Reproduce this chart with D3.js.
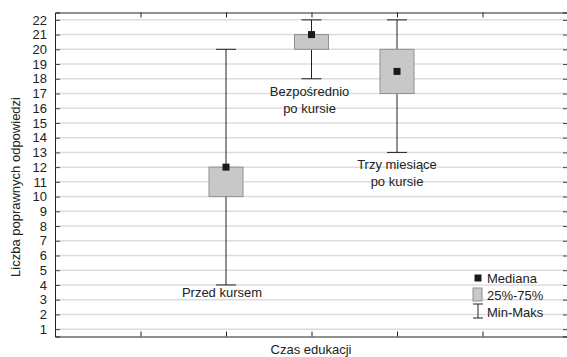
<!DOCTYPE html>
<html>
<head>
<meta charset="utf-8">
<script src="https://cdn.jsdelivr.net/npm/d3@7"></script>
<style>
  html, body { margin: 0; padding: 0; background: #fff; }
  svg { display: block; font-family: "Liberation Sans", Arial, sans-serif; }
  .tick-label { font-size: 13px; fill: #222; }
  .grid line { stroke: #dcdcdc; stroke-width: 1.5; }
</style>
</head>
<body>
<div id="chart"></div>
<script>
// dane
const categories = ["Przed kursem", "Bezpośrednio po kursie", "Trzy miesiące po kursie"];
const catPos = [2, 3, 4];          // pozycja na osi X (0..6)
const minVals = [4, 18, 13];
const q1Vals = [10, 20, 17];
const medVals = [12, 21, 18.5];
const q3Vals = [12, 21, 20];
const maxVals = [20, 22, 22];
const labelLines = [["Przed kursem"], ["Bezpośrednio", "po kursie"], ["Trzy miesiące", "po kursie"]];
const labelAt = [3.2, 16.8, 11.85]; // wartość Y linii bazowej etykiety
const yTicks = d3.range(1, 23);
const xTicks = [1, 2, 3, 4, 5];
const legendItems = ["Mediana", "25%-75%", "Min-Maks"];

const W = 567, H = 357;
const margin = { top: 12.5, right: 0, bottom: 20.5, left: 55 };
const width = 568 - margin.left;
const height = H - margin.top - margin.bottom;

const svg = d3.select("#chart").append("svg")
  .attr("width", W).attr("height", H);
const g = svg.append("g").attr("transform", `translate(${margin.left},${margin.top})`);

const x = d3.scaleLinear().domain([0, 6]).range([0, width]);
const y = d3.scaleLinear().domain([0.5, 22.5]).range([height, 0]);

// siatka
g.append("g").attr("class", "grid")
  .selectAll("line").data(yTicks).join("line")
  .attr("x1", 0).attr("x2", width)
  .attr("y1", d => y(d)).attr("y2", d => y(d));

// osie (tiki do środka)
const yAxis = g.append("g").call(d3.axisLeft(y).tickValues(yTicks).tickSize(-5).tickPadding(8));
yAxis.select(".domain").attr("stroke", "#222");
yAxis.selectAll(".tick line").attr("stroke", "#444");
yAxis.selectAll(".tick text").attr("class", "tick-label").attr("font-size", null).attr("font-family", null);

const yAxisR = g.append("g").attr("transform", `translate(${width},0)`)
  .call(d3.axisRight(y).tickValues(yTicks).tickSize(-5).tickFormat(""));
yAxisR.select(".domain").attr("stroke", "#222");
yAxisR.selectAll(".tick line").attr("stroke", "#444");

const xAxis = g.append("g").attr("transform", `translate(0,${height})`)
  .call(d3.axisBottom(x).tickValues(xTicks).tickSize(-5).tickFormat(""));
xAxis.select(".domain").attr("stroke", "#222");
xAxis.selectAll(".tick line").attr("stroke", "#222");

const xAxisT = g.append("g")
  .call(d3.axisTop(x).tickValues(xTicks).tickSize(-5).tickFormat(""));
xAxisT.select(".domain").attr("stroke", "#222");
xAxisT.selectAll(".tick line").attr("stroke", "#222");

// wykresy pudełkowe
const boxW = 34, capW = 20, medS = 7;
categories.forEach((c, i) => {
  const cx = x(catPos[i]);
  // wąsy
  g.append("line").attr("x1", cx).attr("x2", cx)
    .attr("y1", y(maxVals[i])).attr("y2", y(minVals[i]))
    .attr("stroke", "#222").attr("stroke-width", 1);
  [minVals[i], maxVals[i]].forEach(v => {
    g.append("line").attr("x1", cx - capW / 2).attr("x2", cx + capW / 2)
      .attr("y1", y(v)).attr("y2", y(v))
      .attr("stroke", "#222").attr("stroke-width", 1);
  });
  // pudełko
  g.append("rect")
    .attr("x", cx - boxW / 2).attr("y", y(q3Vals[i]))
    .attr("width", boxW).attr("height", y(q1Vals[i]) - y(q3Vals[i]))
    .attr("fill", "#c8c8c8").attr("stroke", "#909090").attr("stroke-width", 1);
  // mediana
  g.append("rect")
    .attr("x", cx - medS / 2).attr("y", y(medVals[i]) - medS / 2)
    .attr("width", medS).attr("height", medS)
    .attr("fill", "#1a1a1a");
  // etykieta
  const lx = cx - (i === 0 ? 4 : i === 1 ? 2 : 0);
  const t = g.append("text").attr("class", "tick-label")
    .attr("text-anchor", "middle")
    .attr("x", lx)
    .attr("y", y(labelAt[i]));
  labelLines[i].forEach((line, j) => {
    t.append("tspan").attr("x", lx).attr("dy", j === 0 ? 0 : 16.5).text(line);
  });
});

// legenda
const lg = svg.append("g").attr("transform", "translate(478,278)");
lg.append("rect").attr("x", -3.5).attr("y", -3.5).attr("width", 7).attr("height", 7).attr("fill", "#1a1a1a");
lg.append("rect").attr("x", -5).attr("y", 10).attr("width", 9).attr("height", 13)
  .attr("fill", "#c8c8c8").attr("stroke", "#909090");
lg.append("line").attr("x1", 0).attr("x2", 0).attr("y1", 26).attr("y2", 40).attr("stroke", "#222");
lg.append("line").attr("x1", -5).attr("x2", 5).attr("y1", 26).attr("y2", 26).attr("stroke", "#222");
lg.append("line").attr("x1", -5).attr("x2", 5).attr("y1", 40).attr("y2", 40).attr("stroke", "#222");
lg.selectAll("text.leg").data(legendItems).join("text")
  .attr("class", "tick-label leg")
  .attr("x", 9).attr("y", (d, i) => 5 + i * 17)
  .text(d => d);

// tytuły osi
svg.append("text").attr("class", "tick-label")
  .attr("text-anchor", "middle")
  .attr("transform", "translate(20,187) rotate(-90)")
  .text("Liczba poprawnych odpowiedzi");
svg.append("text").attr("class", "tick-label")
  .attr("text-anchor", "middle")
  .attr("x", 311).attr("y", 354)
  .text("Czas edukacji");
</script>
</body>
</html>
